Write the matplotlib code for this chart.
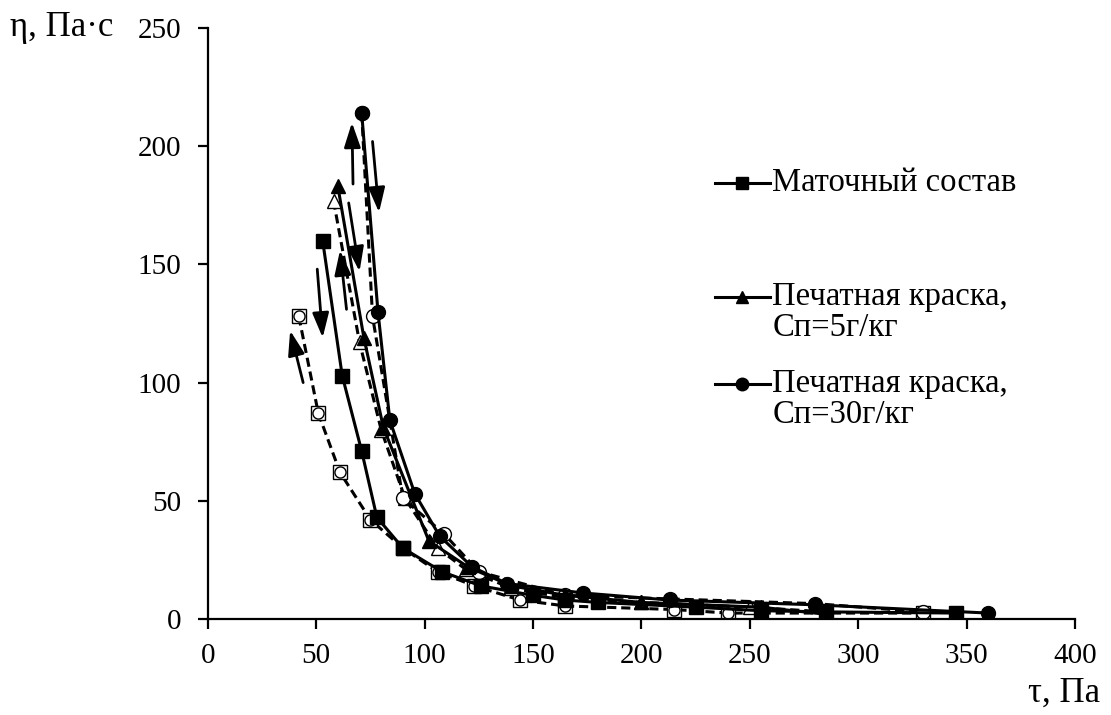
import numpy as np
import matplotlib.pyplot as plt
from matplotlib.lines import Line2D

plt.rcParams['font.family'] = ['Liberation Serif', 'DejaVu Serif']
plt.rcParams['font.size'] = 21

# Маточный состав: прямой ход (сплошная) и обратный ход (пунктир)
tau_base_up = [53, 62, 71, 78, 90, 108, 126, 150, 165, 180, 225, 255, 285, 345]
eta_base_up = [160, 103, 71, 43, 30, 20, 14, 10, 8, 7, 5, 3.5, 3, 2.5]
tau_base_dn = [42, 51, 61, 75, 90, 106, 123, 144, 165, 215, 240, 330]
eta_base_dn = [128, 87, 62, 42, 30, 20, 14, 8, 5.5, 4, 2.5, 2.5]

# Печатная краска, Сп=5г/кг
tau_5_up = [60, 72, 81, 102, 120, 140, 165, 200, 255, 285]
eta_5_up = [183, 119, 81, 33, 22, 14, 10, 7, 5, 2]
tau_5_dn = [58, 70, 80, 91, 106, 119, 140, 165, 200, 250, 285]
eta_5_dn = [177, 117, 80, 51, 30, 21, 13, 9, 7, 5, 3]

# Печатная краска, Сп=30г/кг
tau_30_up = [71, 78.5, 84, 95.5, 107, 122, 138, 173, 213, 280, 360]
eta_30_up = [214, 130, 84, 53, 35, 22, 15, 11, 8, 6, 2.5]
tau_30_dn = [71, 76, 90, 109, 125, 165, 213, 280, 330]
eta_30_dn = [214, 128, 51, 36, 20, 10, 8.5, 6.5, 3]

# стрелки направления хода: (хвост, остриё)
arrows = [
    ((44, 100), (38, 122)),
    ((50.5, 148), (53, 119)),
    ((64, 131), (61, 156)),
    ((65, 176), (70, 147)),
    ((67, 184), (66.5, 210)),
    ((76, 202), (79, 172)),
]

legend_labels = [
    ["Маточный состав"],
    ["Печатная краска,", "Сп=5г/кг"],
    ["Печатная краска,", "Сп=30г/кг"],
]
legend_markers = ['s', '^', 'o']

fig = plt.figure(figsize=(11.11, 7.15), dpi=100)
ax = fig.add_axes([0.187, 0.1343, 0.7806, 0.8265])

lw = 2.2
dash = (0, (3, 1.6))

# обратный ход — пунктир с открытыми маркерами
ax.plot(tau_base_dn, eta_base_dn, color='black', lw=lw, ls=dash, marker='s', ms=10,
        mfc='white', mec='black', mew=1, zorder=2)
ax.plot(tau_base_dn, eta_base_dn, ls='none', marker='o', ms=8,
        mfc='none', mec='black', mew=1, zorder=2)
ax.plot(tau_5_dn, eta_5_dn, color='black', lw=lw, ls=dash, marker='^', ms=10,
        mfc='white', mec='black', mew=1, zorder=2)
ax.plot(tau_30_dn, eta_30_dn, color='black', lw=lw, ls=dash, marker='o', ms=10,
        mfc='white', mec='black', mew=1, zorder=2)

# прямой ход — сплошные линии с заполненными маркерами
ax.plot(tau_base_up, eta_base_up, color='black', lw=lw, marker='s', ms=10, zorder=3)
ax.plot(tau_5_up, eta_5_up, color='black', lw=lw, marker='^', ms=10, zorder=3)
ax.plot(tau_30_up, eta_30_up, color='black', lw=lw, marker='o', ms=10, zorder=3)

for tail, tip in arrows:
    ax.annotate('', xy=tip, xytext=tail,
                arrowprops=dict(arrowstyle='-|>,head_length=0.75,head_width=0.25',
                                mutation_scale=20, color='black', lw=2.0,
                                shrinkA=0, shrinkB=0))

ax.set_xlim(0, 400)
ax.set_ylim(0, 250)
ax.set_xticks(np.arange(0, 401, 50))
ax.set_yticks(np.arange(0, 251, 50))
ax.spines['top'].set_visible(False)
ax.spines['right'].set_visible(False)
for s in ('left', 'bottom'):
    ax.spines[s].set_linewidth(1.6)
ax.tick_params(direction='out', length=7, width=1.6, labelsize=21)
ax.tick_params(axis='x', pad=10)
ax.tick_params(axis='y', pad=12)

# легенда
legend_y = [0.738, 0.545, 0.398]
line_gap = 0.053
for labels, mk, y in zip(legend_labels, legend_markers, legend_y):
    ax.add_line(Line2D([0.585, 0.648], [y, y], transform=ax.transAxes, color='black',
                       lw=lw, clip_on=False))
    ax.add_line(Line2D([0.6165], [y], transform=ax.transAxes, color='black',
                       marker=mk, ms=9, ls='none', clip_on=False))
    for i, txt in enumerate(labels):
        ax.text(0.651, y - i * line_gap, txt, transform=ax.transAxes,
                ha='left', va='center', fontsize=23.5)

fig.text(0.009, 1 - 28 / 715, "η, Па·с", ha='left', va='center', fontsize=25)
fig.text(0.99, 1 - 693 / 715, "τ, Па", ha='right', va='center', fontsize=25)

fig.savefig('out.png', dpi=100)
